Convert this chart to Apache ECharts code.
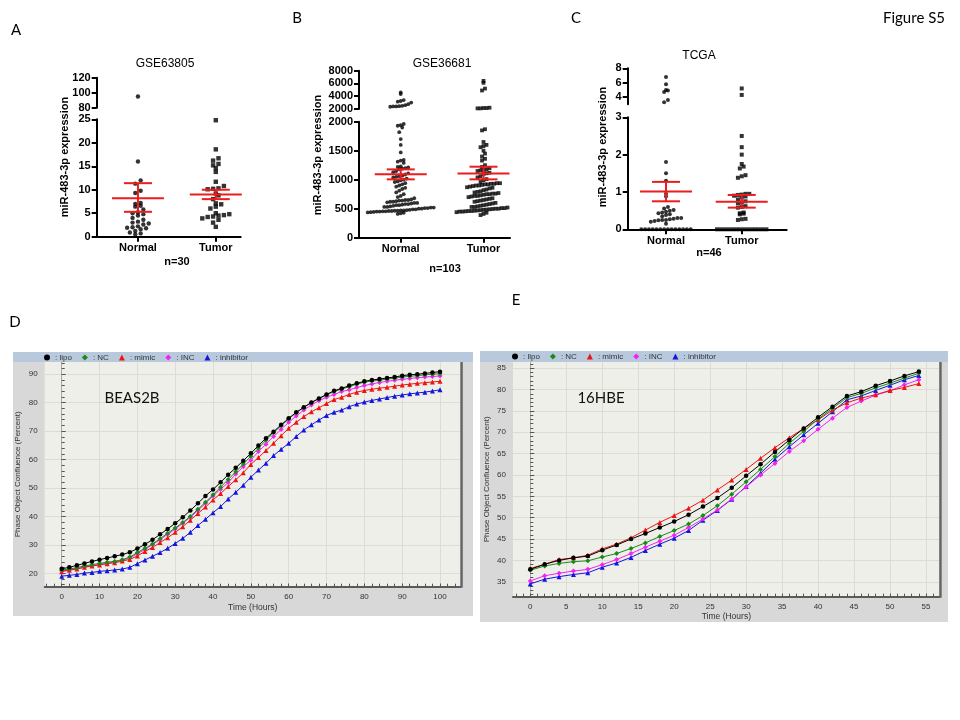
<!DOCTYPE html>
<html><head><meta charset="utf-8">
<script src="https://cdn.jsdelivr.net/npm/echarts@6/dist/echarts.min.js"></script>
<style>html,body{margin:0;padding:0;background:#fff}#c{width:960px;height:720px}</style>
</head><body><div id="c"></div>
<script>
// ---------------- DATA ----------------
const groups = ['Normal', 'Tumor'];

// Panel A: GSE63805 (n=30)
const gse63805Normal = [95, 16, 12, 11.3, 9.8, 9.3, 7.2, 7.0, 6.6, 6.4, 5.8, 5.2, 5.0, 4.8, 4.5, 4.0, 3.6, 3.2, 3.0, 2.8, 2.6, 2.2, 2.0, 1.9, 1.8, 1.6, 1.2, 0.9, 0.7, 0.5];
const gse63805Tumor = [24.8, 18.6, 16.7, 16.2, 15.5, 15.2, 14.6, 13.8, 11.7, 10.8, 10.3, 10.1, 10.2, 9.2, 8.8, 8.0, 7.1, 6.9, 6.4, 6.0, 5.0, 4.8, 4.6, 4.5, 4.3, 4.2, 3.9, 3.6, 3.0, 2.1];
const gse63805Mean = [8.2, 9.0];
const gse63805SemLow = [5.3, 8.0];
const gse63805SemHigh = [11.4, 10.0];

// Panel B: GSE36681 (n=103)
const gse36681Normal = [4600, 4350, 3400, 3250, 3150, 3000, 2750, 2600, 2500, 2450, 2400, 2400, 2350,
  1960, 1940, 1930, 1900, 1820, 1700, 1600, 1470, 1340, 1330, 1310, 1290,
  1230, 1220, 1210, 1200, 1190, 1180, 1150, 1130, 1110,
  1090, 1070, 1060, 1050, 1040, 1020, 1000, 990, 970, 960,
  940, 920, 900, 880, 860, 840, 810, 780, 750, 720, 700, 680,
  660, 650, 650, 640, 640, 630, 620, 620, 610, 600, 600, 590, 580, 580, 570, 560, 560, 550,
  540, 530, 530, 520, 520, 510, 510, 500, 500, 490, 490, 480,
  475, 470, 470, 465, 465, 460, 460, 455, 455, 450, 450, 445, 440, 435, 430, 420, 410];
const gse36681Tumor = [6400, 6100, 5200, 4900, 2200, 2150, 2150, 2100, 2100,
  1870, 1850, 1650, 1600, 1580, 1560, 1500, 1450, 1400, 1360, 1330,
  1250, 1220, 1200, 1180, 1170, 1160, 1150, 1120, 1110, 1100,
  1060, 1040, 1010, 990, 960,
  940, 940, 930, 930, 920, 920, 910, 900, 900, 890, 880, 870, 860, 850,
  830, 820, 800, 790, 780, 770, 760, 760, 750, 750, 740, 730, 720, 720, 710, 700,
  680, 670, 660, 650, 640, 630, 620, 600, 590, 580, 570, 560, 550,
  540, 530, 530, 520, 520, 510, 510, 500, 500, 495, 490, 485, 480, 475,
  470, 465, 460, 460, 455, 450, 450, 440, 430, 410, 390];
const gse36681Mean = [1092, 1109];
const gse36681SemLow = [1006, 1006];
const gse36681SemHigh = [1178, 1224];

// Panel C: TCGA (n=46)
const tcgaNormal = [6.8, 5.8, 5.0, 4.9, 4.7, 3.6, 3.3, 1.8, 1.5, 1.3, 0.95, 0.88,
  0.6, 0.56, 0.52, 0.5, 0.47, 0.45, 0.43, 0.4, 0.38, 0.35,
  0.3, 0.3, 0.28, 0.27, 0.25, 0.25, 0.24, 0.22, 0.2, 0.15,
  0, 0, 0, 0, 0, 0, 0, 0, 0, 0, 0, 0, 0, 0];
const tcgaTumor = [5.2, 4.3, 2.5, 2.2, 2.0, 1.75, 1.68, 1.63, 1.45, 1.42, 1.38,
  0.95, 0.95, 0.93, 0.92, 0.9, 0.88, 0.85, 0.8, 0.75, 0.72, 0.7, 0.62, 0.6, 0.58,
  0.45, 0.43, 0.42, 0.4, 0.28, 0.27, 0.25,
  0, 0, 0, 0, 0, 0, 0, 0, 0, 0, 0, 0, 0, 0];
const tcgaMean = [1.01, 0.74];
const tcgaSemLow = [0.75, 0.58];
const tcgaSemHigh = [1.27, 0.92];

// Panel D: BEAS2B confluence (%), every 2 h
const hoursD = [0, 2, 4, 6, 8, 10, 12, 14, 16, 18, 20, 22, 24, 26, 28, 30, 32, 34, 36, 38, 40, 42, 44, 46, 48, 50,
  52, 54, 56, 58, 60, 62, 64, 66, 68, 70, 72, 74, 76, 78, 80, 82, 84, 86, 88, 90, 92, 94, 96, 98, 100];
const beasLipo = [21.6, 22.1, 22.8, 23.5, 24.2, 24.8, 25.4, 26.0, 26.6, 27.4,
  28.7, 30.2, 31.8, 33.7, 35.6, 37.6, 39.7, 42.1, 44.6, 47.2,
  49.5, 52.0, 54.7, 57.1, 59.6, 62.2, 64.9, 67.5, 69.8, 72.2,
  74.5, 76.6, 78.4, 80.1, 81.5, 82.9, 84.2, 85.0, 86.0, 86.8,
  87.5, 88.0, 88.3, 88.7, 89.0, 89.5, 89.8, 90.0, 90.3, 90.6, 90.9];
const beasNC = [21.2, 21.5, 22.0, 22.6, 23.0, 23.5, 23.9, 24.2, 24.8, 25.7,
  27.3, 28.8, 30.3, 32.2, 34.1, 35.9, 37.9, 40.0, 42.5, 45.0,
  47.6, 50.3, 53.0, 55.7, 58.4, 61.2, 64.0, 66.8, 69.4, 71.9,
  74.3, 76.5, 78.3, 80.0, 81.4, 82.7, 83.9, 84.8, 85.6, 86.5,
  87.2, 87.6, 87.9, 88.3, 88.6, 89.0, 89.3, 89.5, 89.8, 90.0, 90.2];
const beasMimic = [20.6, 21.1, 21.5, 22.1, 22.6, 22.9, 23.4, 23.7, 24.3, 24.9,
  26.1, 27.7, 29.1, 30.8, 32.5, 34.4, 36.4, 38.7, 41.0, 43.3,
  45.8, 48.1, 50.5, 52.9, 55.4, 58.3, 60.7, 63.2, 65.7, 68.4,
  71.0, 73.1, 75.1, 76.8, 78.2, 79.7, 81.1, 81.9, 82.9, 83.7,
  84.3, 84.7, 85.1, 85.4, 85.8, 86.2, 86.5, 86.8, 87.0, 87.3, 87.5];
const beasINC = [20.9, 21.2, 21.7, 22.2, 22.7, 23.2, 23.5, 24.0, 24.6, 25.4,
  26.9, 28.4, 30.1, 31.8, 33.7, 35.6, 37.6, 39.7, 42.1, 44.6,
  47.2, 49.6, 51.9, 54.9, 57.5, 59.8, 62.8, 65.4, 68.1, 70.6,
  73.1, 75.3, 77.4, 79.2, 80.7, 81.9, 82.9, 83.9, 84.5, 85.3,
  86.0, 86.6, 87.1, 87.5, 87.9, 88.2, 88.5, 88.8, 89.0, 89.2, 89.4];
const beasInhibitor = [19.0, 19.3, 19.6, 20.1, 20.3, 20.7, 20.9, 21.2, 21.5, 22.1,
  23.4, 24.7, 26.0, 27.3, 28.8, 30.5, 32.3, 34.4, 36.8, 39.0,
  41.3, 43.5, 46.1, 48.5, 51.0, 53.8, 56.3, 58.7, 61.4, 63.6,
  65.7, 68.1, 70.4, 72.2, 73.9, 75.5, 76.6, 77.4, 78.6, 79.5,
  80.2, 80.8, 81.3, 81.8, 82.3, 82.7, 83.1, 83.4, 83.7, 84.1, 84.5];

// Panel E: 16HBE confluence (%), every 2 h
const hoursE = [0, 2, 4, 6, 8, 10, 12, 14, 16, 18, 20, 22, 24, 26, 28, 30, 32, 34, 36, 38, 40, 42, 44, 46, 48, 50, 52, 54];
const hbeLipo = [37.9, 39.1, 40.0, 40.6, 41.0, 42.4, 43.6, 45.0, 46.3, 47.7, 49.1, 50.7, 52.6, 54.6,
  57.0, 59.8, 62.5, 65.4, 68.2, 70.9, 73.5, 76.0, 78.5, 79.5, 80.9, 82.0, 83.2, 84.2];
const hbeNC = [37.7, 38.7, 39.3, 39.7, 39.9, 40.8, 41.6, 42.8, 44.1, 45.6, 47.0, 48.5, 50.5, 52.8,
  55.5, 58.4, 61.3, 64.3, 67.4, 70.2, 73.1, 75.6, 78.1, 79.1, 80.4, 81.5, 82.7, 83.8];
const hbeMimic = [38.1, 39.1, 40.2, 40.6, 41.2, 42.7, 43.8, 45.3, 47.1, 48.9, 50.5, 52.2, 54.1, 56.5,
  58.8, 61.3, 63.9, 66.4, 68.7, 70.9, 72.9, 75.2, 76.9, 78.0, 78.8, 79.8, 80.5, 81.4];
const hbeINC = [35.2, 36.4, 37.0, 37.5, 37.9, 39.0, 40.2, 41.6, 43.1, 44.5, 45.9, 47.7, 49.7, 51.8,
  54.4, 57.2, 60.0, 62.7, 65.5, 68.0, 70.7, 73.3, 75.8, 77.3, 78.7, 79.7, 81.1, 82.3];
const hbeInhibitor = [34.5, 35.6, 36.2, 36.7, 37.1, 38.4, 39.4, 40.7, 42.3, 43.8, 45.2, 47.0, 49.4, 51.7,
  54.3, 57.3, 60.4, 63.7, 66.6, 69.4, 72.1, 74.8, 77.6, 78.5, 79.8, 81.0, 82.3, 83.3];

const seriesNames = ['lipo', 'NC', 'mimic', 'INC', 'inhibitor'];
const dTicksX = [0, 10, 20, 30, 40, 50, 60, 70, 80, 90, 100];
const dTicksY = [20, 30, 40, 50, 60, 70, 80, 90];
const eTicksX = [0, 5, 10, 15, 20, 25, 30, 35, 40, 45, 50, 55];
const eTicksY = [35, 40, 45, 50, 55, 60, 65, 70, 75, 80, 85];

// ---------------- LAYOUT ----------------
const FONT = '"Liberation Sans", Arial, sans-serif';
const panels = [
  { name: 'GSE63805', n: 'n=30', normal: gse63805Normal, tumor: gse63805Tumor, mean: gse63805Mean, lo: gse63805SemLow, hi: gse63805SemHigh,
    left: 96.7, right: 240.7, xmin: 0.47, xmax: 2.32,
    up: { top: 77.7, bottom: 107.7, min: 80, max: 120, interval: 20 },
    low: { top: 119.3, bottom: 236.7, min: 0, max: 25, interval: 5 },
    size: 4.4, rowH: 4.8, sp: 5.4, title: [165, 64], nPos: [177, 262], yName: [65, 157] },
  { name: 'GSE36681', n: 'n=103', normal: gse36681Normal, tumor: gse36681Tumor, mean: gse36681Mean, lo: gse36681SemLow, hi: gse36681SemHigh,
    left: 359, right: 510, xmin: 0.496, xmax: 2.32,
    up: { top: 70.7, bottom: 109, min: 2000, max: 8000, interval: 2000 },
    low: { top: 121.7, bottom: 237.7, min: 0, max: 2000, interval: 500 },
    size: 3.8, rowH: 5.0, sp: 3.0, title: [442, 64], nPos: [445, 269], yName: [318, 155] },
  { name: 'TCGA', n: 'n=46', normal: tcgaNormal, tumor: tcgaTumor, mean: tcgaMean, lo: tcgaSemLow, hi: tcgaSemHigh,
    left: 627.7, right: 786.7, xmin: 0.494, xmax: 2.594,
    up: { top: 68.3, bottom: 104.3, min: 3, max: 8, custom: [4, 6, 8] },
    low: { top: 117.3, bottom: 229.3, min: 0, max: 3, interval: 1 },
    size: 4.0, rowH: 4.4, sp: 3.8, title: [699, 56], nPos: [709, 253], yName: [603, 147] }
];

function segPix(seg, v) { return seg.bottom - (v - seg.min) / (seg.max - seg.min) * (seg.bottom - seg.top); }

// Prism-like row layout: values falling in the same pixel row are spread side by side
function rowSpread(vals, yPix, pxPer, center, rowH, sp) {
  const rows = {};
  vals.forEach((v, i) => {
    const r = Math.round(yPix(v) / rowH);
    (rows[r] = rows[r] || []).push(i);
  });
  const xs = new Array(vals.length);
  Object.keys(rows).forEach(r => {
    const list = rows[r].sort((a, b) => vals[a] - vals[b]);
    const n = list.length;
    list.forEach((idx, j) => { xs[idx] = center + ((j - (n - 1) / 2) * sp) / pxPer; });
  });
  return xs;
}

const grids = [], xAxes = [], yAxes = [], series = [], graphics = [];
const axisBlack = { color: '#000', width: 2 };
const plainNum = v => String(v);

panels.forEach((P, pi) => {
  const width = P.right - P.left;
  const gUp = pi * 2, gLow = pi * 2 + 1;
  grids.push({ left: P.left, top: P.up.top, width: width, height: P.up.bottom - P.up.top });
  grids.push({ left: P.left, top: P.low.top, width: width, height: P.low.bottom - P.low.top });
  xAxes.push({ gridIndex: gUp, type: 'value', min: P.xmin, max: P.xmax, show: false });
  xAxes.push({ gridIndex: gLow, type: 'value', min: P.xmin, max: P.xmax,
    axisLine: { show: true, onZero: false, lineStyle: axisBlack },
    axisTick: { show: true, customValues: [1, 2], length: 5, lineStyle: axisBlack },
    axisLabel: { customValues: [1, 2], formatter: v => groups[Math.round(v) - 1], fontWeight: 'bold', fontSize: 11, color: '#000', margin: 6, fontFamily: FONT },
    splitLine: { show: false } });
  const yUp = { gridIndex: gUp, type: 'value', min: P.up.min, max: P.up.max,
    axisLine: { show: true, lineStyle: axisBlack },
    axisTick: { show: true, length: 5, lineStyle: axisBlack },
    axisLabel: { fontWeight: 'bold', fontSize: 11, color: '#000', margin: 6, fontFamily: FONT, formatter: plainNum },
    splitLine: { show: false } };
  if (P.up.custom) { yUp.axisTick.customValues = P.up.custom; yUp.axisLabel.customValues = P.up.custom; }
  else yUp.interval = P.up.interval;
  yAxes.push(yUp);
  yAxes.push({ gridIndex: gLow, type: 'value', min: P.low.min, max: P.low.max, interval: P.low.interval,
    axisLine: { show: true, lineStyle: axisBlack },
    axisTick: { show: true, length: 5, lineStyle: axisBlack },
    axisLabel: { fontWeight: 'bold', fontSize: 11, color: '#000', margin: 6, fontFamily: FONT, formatter: plainNum },
    splitLine: { show: false } });

  const pxPer = width / (P.xmax - P.xmin);
  const yPix = v => v > P.low.max ? segPix(P.up, v) : segPix(P.low, v);
  [P.normal, P.tumor].forEach((vals, gi) => {
    const xs = rowSpread(vals, yPix, pxPer, gi + 1, P.rowH, P.sp);
    const upData = [], lowData = [];
    vals.forEach((v, i) => (v > P.low.max ? upData : lowData).push([xs[i], v]));
    const base = { type: 'scatter', symbol: gi ? 'rect' : 'circle', symbolSize: P.size,
      itemStyle: { color: '#000' }, silent: true, animation: false, z: 3 };
    series.push(Object.assign({}, base, { xAxisIndex: gUp, yAxisIndex: gUp, data: upData }));
    series.push(Object.assign({}, base, { xAxisIndex: gLow, yAxisIndex: gLow, data: lowData }));
  });
  series.push({ type: 'custom', xAxisIndex: gLow, yAxisIndex: gLow, z: 10, silent: true, animation: false,
    data: groups.map((g, i) => [i + 1, P.mean[i], P.lo[i], P.hi[i]]),
    renderItem: (params, api) => {
      const m = api.coord([api.value(0), api.value(1)]);
      const l = api.coord([api.value(0), api.value(2)]);
      const h = api.coord([api.value(0), api.value(3)]);
      const st = { stroke: '#ee1c1c', lineWidth: 2 };
      return { type: 'group', children: [
        { type: 'line', shape: { x1: m[0] - 26, y1: m[1], x2: m[0] + 26, y2: m[1] }, style: st },
        { type: 'line', shape: { x1: h[0] - 14, y1: h[1], x2: h[0] + 14, y2: h[1] }, style: st },
        { type: 'line', shape: { x1: l[0] - 14, y1: l[1], x2: l[0] + 14, y2: l[1] }, style: st },
        { type: 'line', shape: { x1: h[0], y1: h[1], x2: l[0], y2: l[1] }, style: st }
      ] };
    } });

  graphics.push({ type: 'text', x: P.title[0], y: P.title[1], z: 100,
    style: { text: P.name, font: '12px ' + FONT, fill: '#000', textAlign: 'center', textVerticalAlign: 'middle' } });
  graphics.push({ type: 'text', x: P.nPos[0], y: P.nPos[1], z: 100,
    style: { text: P.n, font: 'bold 11px ' + FONT, fill: '#000', textAlign: 'center', textVerticalAlign: 'middle' } });
  graphics.push({ type: 'text', x: P.yName[0], y: P.yName[1], rotation: Math.PI / 2, z: 100,
    style: { text: 'miR-483-3p expression', font: 'bold 11px ' + FONT, fill: '#000', textAlign: 'center', textVerticalAlign: 'middle' } });
});

// ---- growth curve panels ----
const colors = { lipo: '#000000', NC: '#1a8a1a', mimic: '#ee1414', INC: '#f423f4', inhibitor: '#1515e0' };
const symbols = { lipo: 'circle', NC: 'diamond', mimic: 'triangle', INC: 'diamond', inhibitor: 'triangle' };
function range(a, b, s) { const r = []; for (let v = a; v <= b + 1e-9; v += s) r.push(Math.round(v * 100) / 100); return r; }

const curvePanels = [
  { grid: { left: 44.7, top: 362, width: 416.1, height: 224.7 }, xmin: -4.5, xmax: 105.5, ymin: 15.3, ymax: 94.3,
    xMajor: dTicksX, yMajor: dTicksY, xMinor: range(-4, 104, 2), yMinor: range(16, 94, 2),
    hours: hoursD, data: [beasLipo, beasNC, beasMimic, beasINC, beasInhibitor], label: 'BEAS2B', labelPos: [132, 398],
    box: [13, 352, 460, 264], legendLeft: 44, yNameGap: 23, xNameGap: 16 },
  { grid: { left: 513, top: 362, width: 426.7, height: 234.7 }, xmin: -2.4, xmax: 56.9, ymin: 31.5, ymax: 86.45,
    xMajor: eTicksX, yMajor: eTicksY, xMinor: range(-2, 56, 1), yMinor: range(32, 86, 1),
    hours: hoursE, data: [hbeLipo, hbeNC, hbeMimic, hbeINC, hbeInhibitor], label: '16HBE', labelPos: [601, 398],
    box: [480, 351, 468, 271], legendLeft: 512, yNameGap: 22, xNameGap: 15 }
];
const legends = [];
curvePanels.forEach((C, ci) => {
  const gi = grids.length;
  grids.push(Object.assign({ show: true, backgroundColor: '#efefea', borderWidth: 0 }, C.grid));
  const ax = xAxes.length;
  xAxes.push({ gridIndex: gi, type: 'value', min: C.xmin, max: C.xmax, position: 'bottom',
    name: 'Time (Hours)', nameLocation: 'middle', nameGap: C.xNameGap, nameTextStyle: { fontSize: 8.5, color: '#333', fontFamily: FONT },
    axisLine: { show: true, onZero: false, lineStyle: { color: '#5a5a5a', width: 2 } },
    axisTick: { show: true, inside: true, length: 3, customValues: C.xMajor, lineStyle: { color: '#555' } },
    axisLabel: { customValues: C.xMajor, fontSize: 8, color: '#333', margin: 6, fontFamily: FONT },
    splitLine: { show: true, lineStyle: { color: '#dcdcd5', width: 1 } } });
  xAxes.push({ gridIndex: gi, type: 'value', min: C.xmin, max: C.xmax, position: 'bottom',
    axisLine: { show: false }, axisLabel: { show: false }, splitLine: { show: false },
    axisTick: { show: true, inside: true, length: 3, customValues: C.xMinor, lineStyle: { color: '#555' } } });
  const ay = yAxes.length;
  yAxes.push({ gridIndex: gi, type: 'value', min: C.ymin, max: C.ymax, position: 'left',
    name: 'Phase Object Confluence (Percent)', nameLocation: 'middle', nameGap: C.yNameGap, nameRotate: 90,
    nameTextStyle: { fontSize: 8, color: '#333', fontFamily: FONT },
    axisLine: { show: true, lineStyle: { color: '#a8a8a8', width: 1 } },
    axisTick: { show: true, inside: true, length: 4, customValues: C.yMajor, lineStyle: { color: '#555' } },
    axisLabel: { customValues: C.yMajor, fontSize: 8, color: '#333', margin: 7, fontFamily: FONT },
    splitLine: { show: true, lineStyle: { color: '#dcdcd5', width: 1 } } });
  yAxes.push({ gridIndex: gi, type: 'value', min: C.ymin, max: C.ymax, position: 'left',
    axisLine: { show: false }, axisLabel: { show: false }, splitLine: { show: false },
    axisTick: { show: true, inside: true, length: 3, customValues: C.yMinor, lineStyle: { color: '#555' } } });
  seriesNames.forEach((nm, si) => {
    series.push({ type: 'line', name: nm, xAxisIndex: ax, yAxisIndex: ay, animation: false, silent: true,
      data: C.hours.map((h, i) => [h, C.data[si][i]]),
      symbol: symbols[nm], symbolSize: nm === 'lipo' ? 4.5 : 5, showSymbol: true,
      lineStyle: { width: 1, color: colors[nm] }, itemStyle: { color: colors[nm] }, z: 5 + (4 - si) });
  });
  legends.push({ left: C.legendLeft, top: C.box[1] + 1.5, itemWidth: 6, itemHeight: 6, itemGap: 10, padding: 0,
    selectedMode: false, formatter: n => ': ' + n,
    textStyle: { fontSize: 8, color: '#333', fontFamily: FONT },
    data: seriesNames.map(n => ({ name: n, icon: symbols[n] })) });
  graphics.push({ type: 'rect', z: -10, shape: { x: C.box[0], y: C.box[1], width: C.box[2], height: C.box[3] },
    style: { fill: '#d8d8d8' } });
  graphics.push({ type: 'rect', z: -9, shape: { x: C.box[0], y: C.box[1], width: C.box[2], height: C.grid.top - C.box[1] },
    style: { fill: '#b9c9dd' } });
  graphics.push({ type: 'rect', z: 50, shape: { x: C.grid.left + C.grid.width - 0.5, y: C.grid.top, width: 2.5, height: C.grid.height + 1 },
    style: { fill: '#666' } });
  graphics.push({ type: 'text', x: C.labelPos[0], y: C.labelPos[1], z: 100,
    style: { text: C.label, font: '15px Lato, "Liberation Sans", sans-serif', fill: '#111', textAlign: 'center', textVerticalAlign: 'middle' } });
});

// panel letters
[['A', 16, 30], ['B', 297, 18], ['C', 576, 18], ['D', 15, 322], ['E', 516, 300], ['Figure S5', 914, 18]].forEach(t => {
  graphics.push({ type: 'text', x: t[1], y: t[2], z: 100,
    style: { text: t[0], font: '15px Lato, "Liberation Sans", sans-serif', fill: '#000', textAlign: 'center', textVerticalAlign: 'middle' } });
});

const chart = echarts.init(document.getElementById('c'), null, { width: 960, height: 720 });
chart.setOption({
  animation: false,
  backgroundColor: '#ffffff',
  textStyle: { fontFamily: FONT },
  grid: grids, xAxis: xAxes, yAxis: yAxes, series: series, legend: legends,
  graphic: { elements: graphics }
});
</script></body></html>
